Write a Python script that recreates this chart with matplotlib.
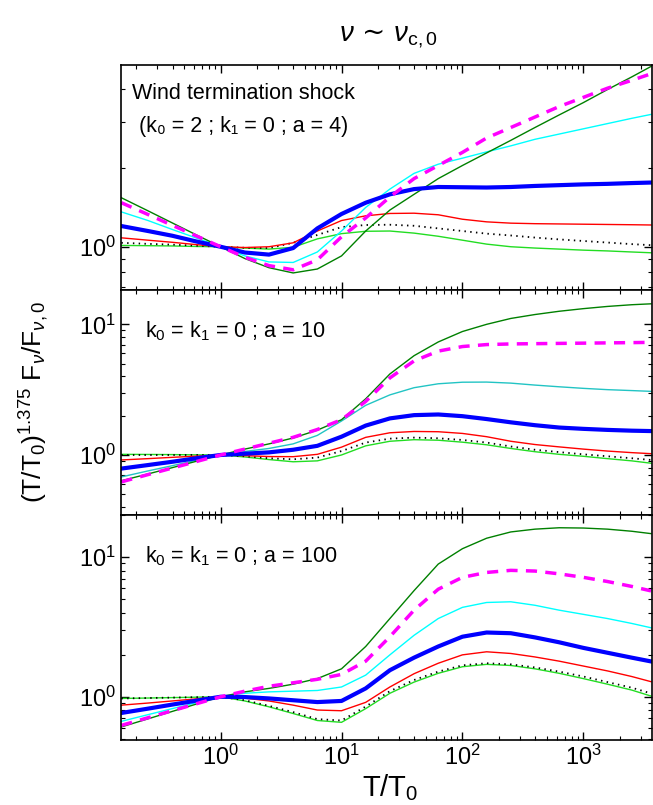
import numpy as np
import matplotlib
matplotlib.use("Agg")
from matplotlib import pyplot as plt
from matplotlib.ticker import LogLocator, NullFormatter

plt.rcParams['font.family'] = ['Liberation Sans', 'DejaVu Sans']
plt.rcParams['mathtext.fontset'] = 'custom'
plt.rcParams['mathtext.rm'] = 'Liberation Sans'
plt.rcParams['mathtext.it'] = 'Liberation Sans:italic'
plt.rcParams['mathtext.sf'] = 'Liberation Sans'

# T/T0 sample points
t = [0.151, 0.251, 0.398, 0.631, 1.0, 1.585, 2.512, 3.981, 6.31, 10, 15.85, 25.12,
     39.81, 63.1, 100, 158.5, 251.2, 398.1, 631, 1000, 1585, 2512, 3631]

# curves, stored as log10 of the plotted quantity
# panel 1: wind termination shock (k0=2, k1=0, a=4)
p1_dgreen = [0.187, 0.137, 0.091, 0.045, 0, -0.045, -0.08, -0.1, -0.085, -0.035, 0.06, 0.14,
             0.2, 0.26, 0.31, 0.358, 0.406, 0.455, 0.503, 0.55, 0.6, 0.648, 0.688]
p1_magenta = [0.168, 0.123, 0.082, 0.041, 0, -0.04, -0.072, -0.088, -0.05, 0.038, 0.11, 0.19,
              0.26, 0.31, 0.36, 0.415, 0.455, 0.495, 0.535, 0.57, 0.605, 0.635, 0.66]
p1_cyan = [0.133, 0.1, 0.066, 0.033, 0, -0.035, -0.058, -0.06, -0.02, 0.06, 0.15, 0.22,
           0.28, 0.315, 0.338, 0.362, 0.385, 0.41, 0.43, 0.45, 0.47, 0.49, 0.505]
p1_blue = [0.079, 0.06, 0.042, 0.02, 0, -0.022, -0.03, -0.005, 0.07, 0.125, 0.168, 0.2,
           0.22, 0.228, 0.227, 0.226, 0.228, 0.232, 0.235, 0.238, 0.24, 0.243, 0.245]
p1_red = [0.034, 0.025, 0.017, 0.008, 0, -0.003, 0.0, 0.015, 0.06, 0.1, 0.118, 0.127,
          0.128, 0.122, 0.105, 0.095, 0.09, 0.088, 0.087, 0.086, 0.085, 0.084, 0.083]
p1_dotted = [0.015, 0.011, 0.008, 0.004, 0, -0.004, -0.005, 0.015, 0.045, 0.075, 0.083, 0.084,
             0.08, 0.07, 0.06, 0.05, 0.043, 0.035, 0.028, 0.022, 0.016, 0.01, 0.006]
p1_lgreen = [0.005, 0.004, 0.003, 0.001, 0, -0.005, -0.009, -0.002, 0.03, 0.05, 0.059, 0.06,
             0.052, 0.04, 0.025, 0.01, 0.0, -0.005, -0.009, -0.013, -0.016, -0.02, -0.023]

# panel 2: k0=k1=0, a=10
p2_dgreen = [-0.197, -0.145, -0.097, -0.048, 0, 0.045, 0.085, 0.13, 0.19, 0.27, 0.43, 0.62,
             0.76, 0.865, 0.945, 1.0, 1.045, 1.075, 1.1, 1.12, 1.137, 1.15, 1.157]
p2_magenta = [-0.206, -0.15, -0.1, -0.05, 0, 0.045, 0.09, 0.135, 0.195, 0.27, 0.41, 0.59,
              0.72, 0.795, 0.83, 0.845, 0.85, 0.852, 0.854, 0.856, 0.858, 0.86, 0.862]
p2_cyan = [-0.168, -0.122, -0.082, -0.04, 0, 0.027, 0.05, 0.085, 0.15, 0.26, 0.38, 0.46,
           0.515, 0.545, 0.557, 0.558, 0.55, 0.535, 0.522, 0.51, 0.5, 0.493, 0.487]
p2_blue = [-0.104, -0.077, -0.052, -0.025, 0, 0.01, 0.02, 0.04, 0.07, 0.14, 0.225, 0.28,
           0.305, 0.31, 0.297, 0.275, 0.25, 0.228, 0.21, 0.2, 0.192, 0.186, 0.183]
p2_red = [-0.038, -0.028, -0.018, -0.009, 0, -0.005, -0.012, -0.013, 0.005, 0.06, 0.135, 0.17,
          0.18, 0.178, 0.165, 0.14, 0.105, 0.08, 0.062, 0.045, 0.03, 0.018, 0.01]
p2_dotted = [0.0, 0.0, 0.0, 0.0, 0, -0.01, -0.025, -0.033, -0.02, 0.03, 0.095, 0.125,
             0.133, 0.128, 0.115, 0.095, 0.065, 0.04, 0.022, 0.005, -0.01, -0.025, -0.038]
p2_lgreen = [0.005, 0.004, 0.003, 0.001, 0, -0.015, -0.035, -0.052, -0.045, 0.0, 0.07, 0.105,
             0.117, 0.113, 0.098, 0.078, 0.05, 0.025, 0.005, -0.01, -0.028, -0.045, -0.063]

# panel 3: k0=k1=0, a=100
p3_dgreen = [-0.216, -0.158, -0.105, -0.052, 0, 0.035, 0.06, 0.09, 0.13, 0.2, 0.36, 0.56,
             0.76, 0.95, 1.06, 1.135, 1.18, 1.2, 1.21, 1.208, 1.2, 1.185, 1.168]
p3_magenta = [-0.205, -0.15, -0.1, -0.05, 0, 0.04, 0.075, 0.1, 0.125, 0.16, 0.255, 0.43,
              0.62, 0.77, 0.855, 0.89, 0.905, 0.9, 0.88, 0.855, 0.825, 0.79, 0.758]
p3_cyan = [-0.176, -0.128, -0.085, -0.042, 0, 0.025, 0.035, 0.04, 0.045, 0.07, 0.155, 0.3,
           0.44, 0.56, 0.64, 0.675, 0.68, 0.655, 0.62, 0.59, 0.56, 0.525, 0.494]
p3_blue = [-0.116, -0.085, -0.056, -0.028, 0, -0.002, -0.012, -0.025, -0.038, -0.03, 0.06, 0.19,
           0.28, 0.36, 0.43, 0.46, 0.455, 0.425, 0.39, 0.35, 0.315, 0.28, 0.253]
p3_red = [-0.06, -0.045, -0.03, -0.015, 0, -0.01, -0.03, -0.06, -0.095, -0.1, -0.04, 0.07,
          0.165, 0.24, 0.3, 0.322, 0.31, 0.285, 0.255, 0.22, 0.185, 0.145, 0.108]
p3_dotted = [-0.012, -0.009, -0.006, -0.003, 0, -0.025, -0.065, -0.11, -0.16, -0.17, -0.07, 0.04,
             0.12, 0.18, 0.225, 0.24, 0.232, 0.21, 0.18, 0.145, 0.105, 0.065, 0.024]
p3_lgreen = [-0.012, -0.009, -0.006, -0.003, 0, -0.03, -0.072, -0.12, -0.17, -0.183, -0.085, 0.025,
             0.105, 0.168, 0.215, 0.232, 0.224, 0.2, 0.168, 0.13, 0.09, 0.048, 0.005]

panels = [
    dict(series=[p1_lgreen, p1_dotted, p1_red, p1_cyan, p1_dgreen, p1_blue, p1_magenta],
         ylim=(0.684, 4.94), yticks=[1], cyan='#00ffff',
         text=['Wind termination shock', '(k\u2080 = 2 ; k\u2081 = 0 ; a = 4)']),
    dict(series=[p2_lgreen, p2_dotted, p2_red, p2_cyan, p2_dgreen, p2_blue, p2_magenta],
         ylim=(0.347, 18.3), yticks=[1, 10], cyan='#22c4c4',
         text=[r'k$_0$ = k$_1$ = 0 ; a = 10']),
    dict(series=[p3_lgreen, p3_dotted, p3_red, p3_cyan, p3_dgreen, p3_blue, p3_magenta],
         ylim=(0.49, 20.0), yticks=[1, 10], cyan='#00ffff',
         text=[r'k$_0$ = k$_1$ = 0 ; a = 100']),
]

fig = plt.figure(figsize=(6.53, 8.05), dpi=100)
left, width, height = 0.1853, 0.8132, 0.2795
bottoms = [0.6398, 0.3602, 0.0807]

for i, p in enumerate(panels):
    ax = fig.add_axes([left, bottoms[i], width, height])
    lg, dot, red, cyan, dg, blue, mag = [np.power(10.0, s) for s in p['series']]
    ax.plot(t, lg, color='#22dd22', lw=1.0)
    ax.plot(t, dot, color='black', lw=1.3, linestyle=(0, (0.8, 2.4)))
    ax.plot(t, red, color='#ff0000', lw=1.0)
    ax.plot(t, cyan, color=p['cyan'], lw=1.0)
    ax.plot(t, dg, color='#008000', lw=1.0)
    ax.plot(t, blue, color='#0000ff', lw=3.0)
    ax.plot(t, mag, color='#ff00ff', lw=2.5, linestyle=(0, (3.2, 2.4)))
    ax.set_xscale('log')
    ax.set_yscale('log')
    ax.set_xlim(0.15, 3700)
    ax.set_ylim(*p['ylim'])
    ax.set_yticks(p['yticks'])
    ax.yaxis.set_minor_locator(LogLocator(base=10, subs=np.arange(2, 10)))
    ax.yaxis.set_minor_formatter(NullFormatter())
    ax.set_xticks([1, 10, 100, 1000])
    ax.xaxis.set_minor_locator(LogLocator(base=10, subs=np.arange(2, 10)))
    ax.xaxis.set_minor_formatter(NullFormatter())
    ax.tick_params(which='both', direction='in', top=True, right=True, labelsize=17)
    ax.tick_params(which='major', length=6, width=1)
    ax.tick_params(which='minor', length=3, width=0.8)
    if i < 2:
        ax.tick_params(labelbottom=False)
    for sp in ax.spines.values():
        sp.set_linewidth(1.2)
    if i == 0:
        ax.text(0.02, 0.85, p['text'][0], transform=ax.transAxes, fontsize=15.5)
        ax.text(0.033, 0.70, p['text'][1], transform=ax.transAxes, fontsize=15.5)
    else:
        ax.text(0.045, 0.79, p['text'][0], transform=ax.transAxes, fontsize=15.5)

fig.text(0.595, 0.955, r'$\nu$ ~ $\nu_{\mathrm{c,0}}$', fontsize=20, ha='center', va='center',
         family=['DejaVu Serif'])
fig.text(0.597, 0.022, r'T/T$_0$', fontsize=21, ha='center', va='center')
fig.text(0.052, 0.50, r'(T/T$_0$)$^{1.375}$ F$_\nu$/F$_{\nu,0}$', fontsize=19,
         rotation=90, ha='center', va='center')

plt.savefig('out.png', dpi=100)
